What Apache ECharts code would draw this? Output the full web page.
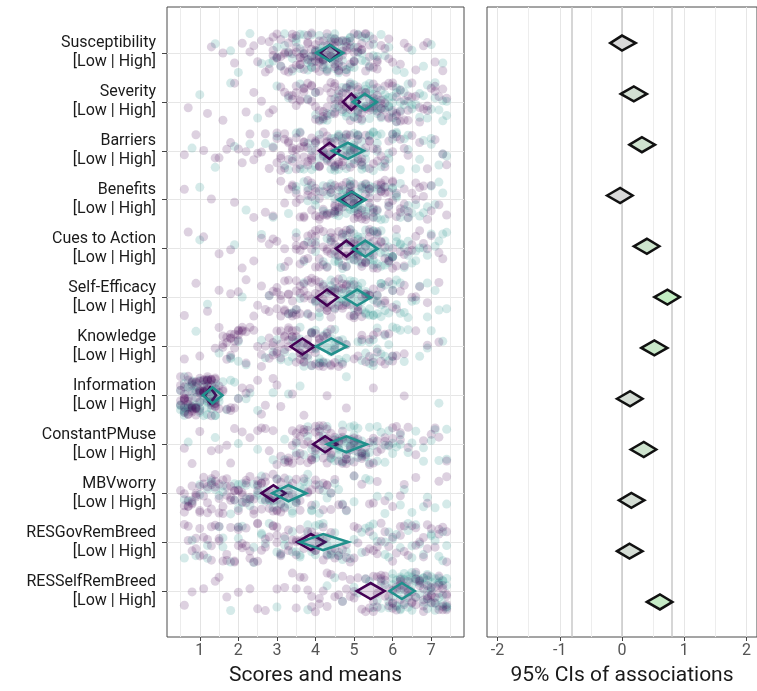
<!DOCTYPE html>
<html>
<head>
<meta charset="utf-8">
<script src="https://cdn.jsdelivr.net/npm/echarts@6/dist/echarts.min.js"></script>
<style>
  html, body { margin: 0; padding: 0; background: #fff; }
  #chart { width: 757px; height: 691px; }
</style>
</head>
<body>
<div id="chart"></div>
<script>
// rows (top to bottom)
const rowNames = ['Susceptibility', 'Severity', 'Barriers', 'Benefits', 'Cues to Action', 'Self-Efficacy',
  'Knowledge', 'Information', 'ConstantPMuse', 'MBVworry', 'RESGovRemBreed', 'RESSelfRemBreed'];
const rowSuffix = '[Low | High]';

// raw scores, low group (purple) per row
const lowScores = [
  [1.3, 1.6, 1.9, 2.1, 2.3, 2.4, 2.5, 2.6, 2.7, 2.8, 2.9, 2.9, 3.0, 3.0, 3.1, 3.1, 3.2, 3.2, 3.3, 3.3, 3.4, 3.4, 3.5, 3.5, 3.6, 3.6, 3.6, 3.7, 3.7, 3.8, 3.8, 3.8, 3.9, 3.9, 3.9, 4.0, 4.0, 4.0, 4.1, 4.1, 4.1, 4.2, 4.2, 4.2, 4.3, 4.3, 4.4, 4.4, 4.4, 4.5, 4.5, 4.5, 4.6, 4.6, 4.6, 4.7, 4.7, 4.8, 4.8, 4.8, 4.9, 4.9, 5.0, 5.0, 5.1, 5.1, 5.2, 5.2, 5.3, 5.3, 5.4, 5.4, 5.5, 5.6, 5.6, 5.7, 5.8, 5.9, 5.9, 6.0, 6.2, 6.3, 6.4, 6.6, 6.8, 6.9, 7.1, 7.3,
   2.8, 2.9, 3.0, 3.1, 3.2, 3.3, 3.4, 3.5, 3.5, 3.6, 3.7, 3.7, 3.8, 3.9, 4.0, 4.0, 4.1, 4.2, 4.2, 4.3, 4.3, 4.4, 4.5, 4.5, 4.6, 4.7, 4.7, 4.8, 4.9, 5.0, 5.1, 5.2, 5.3, 5.4, 5.5, 5.6, 3.4, 4.1, 4.6, 5.0],
  [0.7, 1.2, 1.6, 1.9, 2.2, 2.4, 2.6, 2.8, 2.9, 3.1, 3.2, 3.3, 3.4, 3.4, 3.5, 3.5, 3.6, 3.6, 3.7, 3.7, 3.8, 3.8, 3.9, 3.9, 4.0, 4.0, 4.1, 4.1, 4.2, 4.2, 4.3, 4.3, 4.4, 4.4, 4.5, 4.5, 4.5, 4.6, 4.6, 4.7, 4.7, 4.8, 4.8, 4.9, 4.9, 5.0, 5.0, 5.0, 5.1, 5.1, 5.2, 5.2, 5.3, 5.3, 5.4, 5.4, 5.5, 5.5, 5.6, 5.6, 5.7, 5.7, 5.8, 5.8, 5.9, 5.9, 6.0, 6.0, 6.1, 6.1, 6.2, 6.2, 6.3, 6.4, 6.4, 6.5, 6.6, 6.7, 6.8, 6.9, 7.0, 7.1, 7.2, 7.3, 7.4,
   3.5, 3.7, 3.9, 4.1, 4.2, 4.3, 4.4, 4.5, 4.6, 4.7, 4.8, 4.9, 5.0, 5.1, 5.2, 5.3, 5.4, 5.5, 5.6, 5.7, 5.8, 5.9, 6.0, 6.1, 6.2, 6.3, 6.5, 6.7, 6.9, 7.1, 4.5, 4.9, 5.3, 5.7, 6.1, 4.0, 4.7, 5.1, 5.5, 6.4],
  [0.6, 0.9, 1.1, 1.4, 1.5, 1.7, 1.8, 2.0, 2.1, 2.3, 2.4, 2.6, 2.7, 2.8, 2.9, 3.0, 3.0, 3.1, 3.1, 3.2, 3.2, 3.3, 3.3, 3.4, 3.4, 3.5, 3.5, 3.6, 3.6, 3.7, 3.7, 3.8, 3.8, 3.9, 3.9, 4.0, 4.0, 4.1, 4.1, 4.2, 4.2, 4.3, 4.3, 4.4, 4.4, 4.5, 4.5, 4.6, 4.6, 4.7, 4.7, 4.8, 4.8, 4.9, 4.9, 5.0, 5.0, 5.1, 5.1, 5.2, 5.2, 5.3, 5.4, 5.4, 5.5, 5.6, 5.7, 5.8, 5.9, 6.0, 6.1, 6.2, 6.4, 6.5, 6.7, 6.9, 7.1, 7.3, 7.4,
   3.0, 3.1, 3.2, 3.3, 3.4, 3.5, 3.6, 3.7, 3.8, 3.9, 4.0, 4.1, 4.2, 4.3, 4.4, 4.5, 4.6, 4.7, 4.8, 4.9, 5.0, 5.1, 5.2, 5.3, 5.4, 5.5, 5.6, 5.8, 6.0, 6.3, 3.5, 3.9, 4.3, 4.7, 5.1, 2.5, 2.2, 4.1, 4.5, 3.7],
  [0.6, 1.3, 1.9, 2.4, 2.7, 2.9, 3.1, 3.2, 3.3, 3.4, 3.5, 3.5, 3.6, 3.7, 3.7, 3.8, 3.8, 3.9, 3.9, 4.0, 4.0, 4.1, 4.1, 4.2, 4.2, 4.3, 4.3, 4.4, 4.4, 4.5, 4.5, 4.5, 4.6, 4.6, 4.7, 4.7, 4.8, 4.8, 4.9, 4.9, 5.0, 5.0, 5.0, 5.1, 5.1, 5.2, 5.2, 5.3, 5.3, 5.4, 5.4, 5.5, 5.5, 5.6, 5.6, 5.7, 5.7, 5.8, 5.8, 5.9, 5.9, 6.0, 6.0, 6.1, 6.2, 6.3, 6.4, 6.5, 6.6, 6.7, 6.8, 6.9, 7.0, 7.2, 7.4,
   3.4, 3.6, 3.8, 4.0, 4.1, 4.2, 4.3, 4.4, 4.5, 4.6, 4.7, 4.8, 4.9, 5.0, 5.1, 5.2, 5.3, 5.4, 5.5, 5.6, 5.7, 5.8, 5.9, 6.0, 6.1, 6.2, 6.4, 6.6, 6.8, 7.0, 4.5, 4.9, 5.3, 5.7, 6.3, 3.9, 4.6, 5.0, 5.4, 5.9],
  [0.7, 1.1, 1.5, 1.8, 2.1, 2.4, 2.6, 2.8, 3.0, 3.2, 3.3, 3.5, 3.5, 3.6, 3.6, 3.7, 3.7, 3.8, 3.8, 3.9, 3.9, 4.0, 4.0, 4.1, 4.1, 4.2, 4.2, 4.3, 4.3, 4.4, 4.4, 4.5, 4.5, 4.6, 4.6, 4.7, 4.7, 4.8, 4.8, 4.9, 4.9, 5.0, 5.0, 5.1, 5.1, 5.2, 5.2, 5.3, 5.3, 5.4, 5.4, 5.5, 5.5, 5.6, 5.6, 5.7, 5.8, 5.9, 6.0, 6.0, 6.1, 6.2, 6.3, 6.4, 6.5, 6.6, 6.8, 7.0, 7.2,
   3.5, 3.7, 3.9, 4.0, 4.1, 4.2, 4.3, 4.4, 4.5, 4.6, 4.7, 4.8, 4.9, 5.0, 5.1, 5.2, 5.3, 5.4, 5.5, 5.6, 5.7, 5.8, 5.9, 6.0, 6.1, 6.3, 6.5, 6.7, 4.4, 4.8, 5.2, 5.6, 4.0, 4.6, 5.0, 5.4, 3.2, 2.9, 6.9, 7.3],
  [0.6, 0.9, 1.2, 1.5, 1.8, 2.0, 2.2, 2.4, 2.6, 2.7, 2.8, 2.9, 3.0, 3.0, 3.1, 3.1, 3.2, 3.2, 3.3, 3.3, 3.4, 3.4, 3.5, 3.5, 3.6, 3.6, 3.7, 3.7, 3.8, 3.8, 3.9, 3.9, 4.0, 4.0, 4.1, 4.1, 4.2, 4.2, 4.3, 4.3, 4.4, 4.4, 4.5, 4.5, 4.6, 4.6, 4.7, 4.7, 4.8, 4.8, 4.9, 4.9, 5.0, 5.0, 5.1, 5.2, 5.3, 5.4, 5.5, 5.6, 5.7, 5.8, 5.9, 6.0, 6.1, 6.3, 6.5, 6.7, 6.9, 7.2,
   2.8, 3.0, 3.1, 3.2, 3.3, 3.4, 3.5, 3.6, 3.7, 3.8, 3.9, 4.0, 4.1, 4.2, 4.3, 4.4, 4.5, 4.6, 4.7, 4.8, 4.9, 5.0, 5.1, 5.2, 5.3, 5.4, 5.6, 5.8, 6.0, 6.2, 3.5, 3.9, 4.3, 4.7, 5.1, 3.3, 4.1, 4.5, 2.5, 6.6],
  [0.6, 1.0, 1.4, 1.5, 1.6, 1.6, 1.7, 1.7, 1.8, 1.8, 1.9, 1.9, 2.0, 2.0, 2.1, 2.1, 2.2, 2.3, 2.4, 2.5, 2.6, 2.7, 2.8, 2.9, 2.9, 3.0, 3.0, 3.1, 3.1, 3.2, 3.2, 3.3, 3.3, 3.4, 3.4, 3.5, 3.5, 3.6, 3.6, 3.7, 3.7, 3.8, 3.8, 3.9, 3.9, 4.0, 4.0, 4.1, 4.1, 4.2, 4.2, 4.3, 4.4, 4.4, 4.5, 4.6, 4.7, 4.8, 5.0, 5.1, 5.2, 5.3, 5.4, 5.5, 5.6, 5.7, 5.8, 5.9, 6.0, 6.1, 6.3, 6.6, 6.9, 7.2,
   1.6, 1.7, 1.8, 1.9, 2.0, 2.1, 2.2, 2.9, 3.0, 3.1, 3.2, 3.3, 3.4, 3.5, 3.6, 3.7, 3.8, 3.9, 4.0, 4.1, 4.2, 4.3, 4.5, 4.6, 5.2, 5.4, 5.6, 5.8, 6.0, 5.5, 3.3, 3.7, 4.1, 3.5, 3.9, 1.8, 2.0, 2.6, 2.8, 4.4],
  [0.5, 0.5, 0.5, 0.6, 0.6, 0.6, 0.6, 0.7, 0.7, 0.7, 0.7, 0.8, 0.8, 0.8, 0.8, 0.9, 0.9, 0.9, 0.9, 1.0, 1.0, 1.0, 1.0, 1.1, 1.1, 1.1, 1.1, 1.2, 1.2, 1.2, 1.2, 1.3, 1.3, 1.3, 1.3, 1.4, 1.4, 1.4, 1.4, 1.5, 1.5, 1.6, 1.7, 1.8, 1.9, 2.0, 2.1, 2.3, 2.5, 2.7, 2.9, 3.1, 3.4, 3.7, 4.3, 4.8, 5.5, 6.3,
   0.5, 0.6, 0.6, 0.7, 0.7, 0.8, 0.8, 0.9, 0.9, 1.0, 1.0, 1.1, 1.1, 1.2, 1.2, 1.3, 1.3, 1.4, 1.4, 1.5, 0.5, 0.6, 0.7, 0.8, 0.9, 1.0, 1.1, 1.2, 1.3, 1.4, 0.6, 0.8, 1.0, 1.2, 1.4, 1.6, 1.8, 2.2, 2.6, 3.0],
  [0.6, 0.8, 1.0, 1.3, 1.5, 1.7, 1.9, 2.1, 2.3, 2.5, 2.7, 2.8, 3.0, 3.1, 3.2, 3.3, 3.3, 3.4, 3.4, 3.5, 3.5, 3.6, 3.6, 3.7, 3.7, 3.8, 3.8, 3.9, 3.9, 4.0, 4.0, 4.1, 4.1, 4.2, 4.2, 4.3, 4.3, 4.4, 4.4, 4.5, 4.5, 4.6, 4.6, 4.7, 4.7, 4.8, 4.8, 4.9, 4.9, 5.0, 5.0, 5.1, 5.1, 5.2, 5.3, 5.4, 5.5, 5.6, 5.7, 5.8, 5.9, 6.0, 6.1, 6.2, 6.4, 6.6, 6.8, 7.0, 7.2, 7.4,
   3.3, 3.4, 3.5, 3.6, 3.7, 3.8, 3.9, 4.0, 4.1, 4.2, 4.3, 4.4, 4.5, 4.6, 4.7, 4.8, 4.9, 5.0, 5.1, 5.2, 5.3, 5.4, 5.5, 5.6, 5.8, 6.0, 6.2, 6.4, 3.6, 4.0, 4.4, 4.8, 5.2, 3.9, 4.3, 4.7, 2.6, 2.9, 1.8, 7.1],
  [0.5, 0.6, 0.6, 0.7, 0.7, 0.8, 0.8, 0.9, 0.9, 1.0, 1.0, 1.1, 1.1, 1.2, 1.2, 1.3, 1.3, 1.4, 1.4, 1.5, 1.5, 1.6, 1.6, 1.7, 1.7, 1.8, 1.8, 1.9, 1.9, 2.0, 2.0, 2.1, 2.1, 2.2, 2.2, 2.3, 2.3, 2.4, 2.4, 2.5, 2.5, 2.6, 2.6, 2.7, 2.7, 2.8, 2.8, 2.9, 2.9, 3.0, 3.0, 3.1, 3.1, 3.2, 3.2, 3.3, 3.4, 3.5, 3.6, 3.7, 3.8, 3.9, 4.0, 4.1, 4.2, 4.3, 4.4, 4.5, 4.6, 4.8, 5.0, 5.2, 5.4, 5.6, 5.8, 6.0, 6.3, 6.6, 6.9, 7.2, 7.4,
   0.6, 0.8, 1.0, 1.2, 1.4, 1.6, 1.8, 2.0, 2.2, 2.4, 2.6, 2.8, 3.0, 3.2, 3.4, 3.6, 3.8, 4.0, 4.2, 4.4, 0.7, 0.9, 1.1, 1.3, 1.5, 1.7, 1.9, 2.1, 2.3, 2.5, 2.7, 2.9, 3.1, 3.3, 3.5, 3.9, 4.3, 4.7, 5.5, 6.2],
  [0.6, 0.7, 0.8, 0.9, 1.0, 1.0, 1.1, 1.2, 1.3, 1.3, 1.4, 1.5, 1.5, 1.6, 1.7, 1.8, 1.9, 2.0, 2.0, 2.1, 2.2, 2.2, 2.3, 2.4, 2.5, 2.5, 2.6, 2.7, 2.8, 2.9, 3.0, 3.0, 3.1, 3.2, 3.3, 3.3, 3.4, 3.5, 3.5, 3.6, 3.7, 3.8, 3.9, 4.0, 4.0, 4.1, 4.2, 4.3, 4.4, 4.5, 4.6, 4.7, 4.8, 4.9, 5.0, 5.1, 5.3, 5.4, 5.5, 5.6, 5.7, 5.8, 5.9, 6.0, 6.1, 6.2, 6.3, 6.4, 6.5, 6.6, 6.7, 6.8, 6.9, 7.0, 7.1, 7.2, 7.3, 7.4,
   0.7, 0.9, 1.1, 1.3, 1.5, 1.7, 1.9, 2.1, 2.3, 2.5, 2.7, 2.9, 3.1, 3.3, 3.5, 3.7, 3.9, 4.1, 4.3, 4.5, 4.8, 5.1, 5.4, 5.7, 6.0, 6.3, 6.6, 6.9, 7.2, 7.4, 3.6, 4.0, 4.4, 5.0, 5.6, 6.2, 6.8, 2.0, 3.0, 4.2],
  [0.6, 0.8, 1.1, 1.4, 1.7, 2.0, 2.3, 2.7, 3.0, 3.2, 3.4, 3.5, 3.6, 3.7, 3.8, 3.9, 4.0, 4.1, 4.2, 4.3, 4.4, 4.5, 4.6, 4.7, 4.8, 4.9, 5.0, 5.1, 5.2, 5.3, 5.4, 5.5, 5.5, 5.6, 5.6, 5.7, 5.7, 5.8, 5.8, 5.9, 5.9, 6.0, 6.0, 6.1, 6.1, 6.2, 6.2, 6.3, 6.3, 6.4, 6.4, 6.5, 6.5, 6.6, 6.6, 6.7, 6.7, 6.8, 6.8, 6.9, 6.9, 7.0, 7.0, 7.1, 7.1, 7.2, 7.2, 7.3, 7.3, 7.4, 7.4,
   3.5, 3.9, 4.3, 4.7, 5.0, 5.3, 5.5, 5.7, 5.9, 6.0, 6.1, 6.2, 6.3, 6.4, 6.5, 6.6, 6.7, 6.8, 6.9, 7.0, 7.1, 7.2, 7.3, 7.4, 6.0, 6.4, 6.8, 7.2, 5.6, 6.2, 6.6, 7.0, 7.4, 5.8, 4.9, 4.1, 2.5, 1.5, 6.9, 7.3]
];

// raw scores, high group (teal) per row
const highScores = [
  [1.4, 1.8, 2.0, 2.3, 2.6, 2.8, 2.9, 3.0, 3.1, 3.2, 3.3, 3.4, 3.5, 3.6, 3.6, 3.7, 3.8, 3.8, 3.9, 3.9, 4.0, 4.0, 4.1, 4.1, 4.2, 4.2, 4.3, 4.3, 4.4, 4.4, 4.5, 4.5, 4.5, 4.6, 4.6, 4.7, 4.7, 4.8, 4.8, 4.9, 4.9, 5.0, 5.0, 5.1, 5.2, 5.2, 5.3, 5.4, 5.5, 5.6, 5.8, 5.9, 6.1, 6.3, 6.5, 6.8, 7.0, 7.3,
   3.0, 3.2, 3.4, 3.5, 3.7, 3.8, 3.9, 4.0, 4.1, 4.2, 4.3, 4.4, 4.5, 4.6, 4.7, 4.8, 4.9, 5.0, 5.1, 5.2, 5.3, 5.5, 5.7, 3.6, 4.2, 4.5, 4.9, 3.9, 4.4, 5.4],
  [1.0, 1.8, 2.5, 3.0, 3.3, 3.6, 3.8, 4.0, 4.1, 4.2, 4.3, 4.4, 4.5, 4.6, 4.6, 4.7, 4.8, 4.8, 4.9, 5.0, 5.0, 5.0, 5.1, 5.1, 5.2, 5.2, 5.3, 5.3, 5.4, 5.4, 5.5, 5.5, 5.5, 5.6, 5.6, 5.7, 5.7, 5.8, 5.8, 5.9, 5.9, 6.0, 6.0, 6.1, 6.1, 6.2, 6.2, 6.3, 6.4, 6.5, 6.6, 6.7, 6.8, 6.9, 7.0, 7.1, 7.2, 7.3, 7.4, 7.4,
   4.0, 4.3, 4.5, 4.7, 4.9, 5.0, 5.1, 5.2, 5.3, 5.4, 5.5, 5.6, 5.7, 5.8, 5.9, 6.0, 6.1, 6.2, 6.3, 6.5, 6.7, 6.9, 7.1, 7.3, 5.0, 5.5, 6.0, 4.8, 5.6, 6.4],
  [0.8, 1.4, 1.9, 2.3, 2.7, 3.0, 3.2, 3.4, 3.5, 3.6, 3.7, 3.8, 3.9, 4.0, 4.1, 4.2, 4.2, 4.3, 4.4, 4.4, 4.5, 4.5, 4.6, 4.6, 4.7, 4.7, 4.8, 4.8, 4.9, 4.9, 5.0, 5.0, 5.0, 5.1, 5.1, 5.2, 5.2, 5.3, 5.3, 5.4, 5.5, 5.5, 5.6, 5.6, 5.7, 5.8, 5.9, 6.0, 6.1, 6.2, 6.3, 6.4, 6.6, 6.8, 7.0, 7.2, 7.3, 7.4,
   3.3, 3.6, 3.9, 4.1, 4.3, 4.5, 4.6, 4.7, 4.8, 4.9, 5.0, 5.1, 5.2, 5.3, 5.4, 5.5, 5.7, 5.9, 6.1, 6.4, 6.7, 7.0, 4.4, 4.8, 5.2, 5.6, 4.0, 5.0, 6.0, 2.9],
  [1.0, 2.2, 2.9, 3.3, 3.5, 3.7, 3.8, 3.9, 4.0, 4.1, 4.2, 4.3, 4.4, 4.4, 4.5, 4.5, 4.6, 4.6, 4.7, 4.7, 4.8, 4.8, 4.9, 4.9, 4.9, 5.0, 5.0, 5.0, 5.1, 5.1, 5.2, 5.2, 5.3, 5.3, 5.4, 5.4, 5.5, 5.5, 5.6, 5.6, 5.7, 5.8, 5.9, 6.0, 6.1, 6.2, 6.3, 6.4, 6.5, 6.7, 6.9, 7.1, 7.3,
   3.5, 3.8, 4.0, 4.2, 4.4, 4.5, 4.6, 4.7, 4.8, 4.9, 5.0, 5.1, 5.2, 5.3, 5.4, 5.5, 5.6, 5.8, 6.0, 6.2, 6.4, 6.6, 6.8, 7.0, 4.9, 5.3, 5.7, 4.3, 6.1, 7.2],
  [1.0, 1.9, 2.6, 3.1, 3.5, 3.8, 4.0, 4.2, 4.3, 4.4, 4.5, 4.6, 4.6, 4.7, 4.8, 4.8, 4.9, 4.9, 5.0, 5.0, 5.0, 5.1, 5.1, 5.2, 5.2, 5.3, 5.3, 5.4, 5.4, 5.5, 5.5, 5.5, 5.6, 5.6, 5.7, 5.7, 5.8, 5.8, 5.9, 6.0, 6.0, 6.1, 6.2, 6.3, 6.4, 6.5, 6.6, 6.7, 6.9, 7.1, 7.3, 7.4,
   3.7, 4.0, 4.3, 4.5, 4.7, 4.8, 4.9, 5.0, 5.1, 5.2, 5.3, 5.4, 5.5, 5.6, 5.7, 5.8, 5.9, 6.0, 6.1, 6.2, 6.4, 6.6, 6.8, 7.0, 5.1, 5.5, 5.9, 4.6, 6.3, 7.2],
  [1.2, 2.1, 2.8, 3.3, 3.5, 3.6, 3.8, 4.0, 4.1, 4.2, 4.3, 4.4, 4.4, 4.5, 4.6, 4.6, 4.7, 4.7, 4.8, 4.8, 4.9, 4.9, 5.0, 5.0, 5.0, 5.1, 5.1, 5.2, 5.2, 5.3, 5.3, 5.4, 5.4, 5.5, 5.5, 5.6, 5.6, 5.7, 5.7, 5.8, 5.9, 6.0, 6.1, 6.2, 6.3, 6.5, 6.7, 6.9, 7.1, 7.4,
   3.4, 3.7, 4.0, 4.2, 4.4, 4.6, 4.7, 4.8, 4.9, 5.0, 5.1, 5.2, 5.3, 5.4, 5.5, 5.6, 5.7, 5.8, 6.0, 6.2, 6.4, 6.6, 6.9, 4.5, 4.9, 5.3, 5.7, 4.1, 6.1, 7.2],
  [0.9, 1.5, 1.8, 2.0, 2.2, 2.6, 2.9, 3.1, 3.3, 3.4, 3.5, 3.6, 3.6, 3.7, 3.8, 3.9, 3.9, 4.0, 4.0, 4.1, 4.1, 4.2, 4.3, 4.4, 4.5, 4.6, 4.7, 4.8, 5.1, 5.2, 5.3, 5.4, 5.5, 5.5, 5.6, 5.7, 5.8, 5.9, 6.0, 6.1, 6.2, 6.4, 6.7, 7.0, 7.3,
   1.8, 2.0, 3.0, 3.2, 3.4, 3.6, 3.8, 4.0, 4.2, 4.3, 4.4, 4.5, 4.6, 4.7, 4.8, 5.2, 5.4, 5.6, 5.8, 6.0, 3.7, 4.1, 4.5, 5.5, 5.9, 3.9, 4.3, 2.7, 6.3, 6.9],
  [0.5, 0.5, 0.6, 0.6, 0.6, 0.7, 0.7, 0.7, 0.8, 0.8, 0.8, 0.9, 0.9, 0.9, 1.0, 1.0, 1.0, 1.1, 1.1, 1.1, 1.2, 1.2, 1.2, 1.3, 1.3, 1.3, 1.4, 1.4, 1.4, 1.5, 1.6, 1.8, 2.0, 2.2, 2.5, 2.9, 3.3, 4.8, 7.2,
   0.5, 0.6, 0.7, 0.8, 0.9, 1.0, 1.1, 1.2, 1.3, 1.4, 0.5, 0.6, 0.7, 0.8, 0.9, 1.0, 1.1, 1.2, 1.3, 1.4, 0.6, 0.8, 1.0, 1.2, 1.4, 1.5, 1.7, 1.9, 2.3, 3.6],
  [0.7, 1.4, 2.0, 2.5, 2.9, 3.2, 3.5, 3.7, 3.8, 3.9, 4.0, 4.1, 4.2, 4.3, 4.4, 4.4, 4.5, 4.5, 4.6, 4.6, 4.7, 4.7, 4.8, 4.8, 4.9, 4.9, 5.0, 5.0, 5.0, 5.1, 5.1, 5.2, 5.2, 5.3, 5.4, 5.5, 5.6, 5.7, 5.8, 5.9, 6.0, 6.1, 6.2, 6.4, 6.6, 6.8, 7.0, 7.2, 7.4,
   3.5, 3.8, 4.0, 4.2, 4.4, 4.5, 4.6, 4.7, 4.8, 4.9, 5.0, 5.1, 5.2, 5.3, 5.4, 5.5, 5.6, 5.8, 6.0, 6.2, 6.5, 6.8, 7.1, 4.6, 5.0, 5.4, 4.2, 5.9, 3.2, 7.4],
  [0.6, 0.8, 1.0, 1.2, 1.3, 1.5, 1.6, 1.8, 1.9, 2.0, 2.0, 2.1, 2.2, 2.3, 2.4, 2.5, 2.5, 2.6, 2.7, 2.8, 2.8, 2.9, 3.0, 3.0, 3.1, 3.2, 3.3, 3.3, 3.4, 3.5, 3.5, 3.6, 3.7, 3.8, 3.9, 4.0, 4.1, 4.2, 4.4, 4.6, 4.8, 5.0, 5.3, 5.6, 5.9, 6.2, 6.5, 6.8, 7.1, 7.4,
   0.7, 1.0, 1.3, 1.6, 1.9, 2.1, 2.3, 2.5, 2.7, 2.9, 3.1, 3.3, 3.5, 3.7, 3.9, 4.1, 4.3, 4.5, 4.7, 5.0, 5.4, 5.8, 6.3, 6.9, 2.2, 2.6, 3.0, 3.4, 3.8, 1.4],
  [0.6, 0.9, 1.2, 1.5, 1.6, 1.8, 2.0, 2.1, 2.4, 2.6, 2.7, 3.0, 3.1, 3.2, 3.4, 3.5, 3.6, 3.8, 3.9, 4.0, 4.1, 4.2, 4.3, 4.4, 4.5, 4.6, 4.8, 5.0, 5.2, 5.4, 5.5, 5.6, 5.8, 5.9, 6.0, 6.2, 6.4, 6.5, 6.6, 6.8, 7.0, 7.2, 7.3, 7.4,
   0.8, 1.2, 1.6, 2.0, 2.4, 2.8, 3.2, 3.6, 4.0, 4.3, 4.6, 4.9, 5.2, 5.5, 5.8, 6.1, 6.4, 6.7, 7.0, 7.3, 3.8, 4.2, 4.7, 5.3, 5.9, 6.5, 7.1, 2.6, 3.4, 4.4],
  [1.8, 3.0, 3.8, 4.3, 4.7, 5.0, 5.3, 5.5, 5.6, 5.7, 5.8, 5.9, 6.0, 6.0, 6.1, 6.1, 6.2, 6.2, 6.2, 6.3, 6.3, 6.4, 6.4, 6.5, 6.5, 6.5, 6.6, 6.6, 6.7, 6.7, 6.8, 6.8, 6.9, 6.9, 6.9, 7.0, 7.0, 7.0, 7.1, 7.1, 7.2, 7.2, 7.2, 7.3, 7.3, 7.4, 7.4, 7.4,
   5.4, 5.7, 5.9, 6.0, 6.1, 6.2, 6.3, 6.4, 6.5, 6.6, 6.7, 6.8, 6.9, 7.0, 7.1, 7.2, 7.3, 7.4, 6.2, 6.6, 7.0, 7.4, 6.4, 6.8, 7.2, 5.1, 4.5, 6.0, 6.9, 7.3]
];

// mean diamonds [lower, mean, upper]
const lowMeans = [
  [4.12, 4.37, 4.62], [4.71, 4.93, 5.15], [4.09, 4.36, 4.63], [4.66, 4.94, 5.22],
  [4.53, 4.80, 5.07], [4.02, 4.30, 4.58], [3.35, 3.66, 3.97], [1.12, 1.27, 1.42],
  [3.94, 4.25, 4.56], [2.60, 2.91, 3.22], [3.52, 3.88, 4.25], [5.07, 5.43, 5.79]
];
const highMeans = [
  [4.02, 4.37, 4.72], [4.97, 5.28, 5.59], [4.43, 4.84, 5.25], [4.58, 4.94, 5.30],
  [4.97, 5.29, 5.61], [4.74, 5.08, 5.43], [4.02, 4.41, 4.81], [1.08, 1.33, 1.59],
  [4.30, 4.80, 5.33], [2.88, 3.30, 3.76], [3.60, 4.20, 4.85], [5.92, 6.24, 6.57]
];

// 95% CIs of associations [lower, estimate, upper]
const assocCIs = [
  [-0.19, 0.00, 0.22], [-0.02, 0.19, 0.40], [0.12, 0.32, 0.53], [-0.24, -0.03, 0.17],
  [0.19, 0.40, 0.60], [0.52, 0.73, 0.93], [0.31, 0.52, 0.73], [-0.08, 0.13, 0.33],
  [0.14, 0.35, 0.55], [-0.05, 0.15, 0.36], [-0.08, 0.12, 0.33], [0.40, 0.61, 0.81]
];

const scoreTicks = [1, 2, 3, 4, 5, 6, 7];
const scoreMinor = [0.5, 1.5, 2.5, 3.5, 4.5, 5.5, 6.5, 7.5];
const assocTicks = [-2, -1, 0, 1, 2];
const assocMinor = [-1.5, -0.5, 0.5, 1.5];
const assocRefs = [-0.8, 0, 0.8];
const rowTicks = rowNames.map((n, i) => i + 1);

const PURPLE = '#440154';
const TEAL = '#21908C';
const FONT = 'Roboto';

const toPoints = (scores) => {
  let out = [];
  scores.forEach((list, r) => list.forEach(v => out.push([v, rowNames[r]])));
  return out;
};
const toDiamonds = (rows) => rows.map((d, i) => [i + 1, d[0], d[1], d[2]]);

const diamond = (half, stroke, fill, width) => (params, api) => {
  const y = api.value(0);
  const a = api.coord([api.value(1), y]);
  const m = api.coord([api.value(2), y]);
  const b = api.coord([api.value(3), y]);
  return {
    type: 'polygon',
    shape: { points: [[a[0], m[1]], [m[0], m[1] - half], [b[0], m[1]], [m[0], m[1] + half]] },
    style: { fill: fill || api.visual('color'), stroke: stroke, lineWidth: width, lineJoin: 'miter' }
  };
};

const hiddenBits = { axisLine: { show: false }, axisTick: { show: false }, axisLabel: { show: false } };

const chart = echarts.init(document.getElementById('chart'), null, { renderer: 'canvas' });

chart.setOption({
  animation: false,
  backgroundColor: '#fff',
  textStyle: { fontFamily: FONT },
  grid: [
    { left: 167, width: 297, top: 7, height: 631, show: true, borderColor: '#4a4a4a', borderWidth: 1 },
    { left: 167, width: 297, top: 28.5, height: 588 },
    { left: 487, right: -4, top: 7, height: 631, show: true, borderColor: '#4a4a4a', borderWidth: 1 }
  ],
  xAxis: [
    {
      gridIndex: 0, type: 'value', min: 0.15, max: 7.85,
      name: 'Scores and means', nameLocation: 'middle', nameGap: 28,
      nameTextStyle: { fontSize: 21, color: '#1a1a1a', fontFamily: FONT },
      axisLine: { show: false },
      axisTick: { show: true, length: 4, customValues: scoreTicks, lineStyle: { color: '#444' } },
      axisLabel: { customValues: scoreTicks, fontSize: 16, color: '#555', margin: 6, fontFamily: FONT },
      splitLine: { show: true, lineStyle: { color: '#e3e3e3', width: 1 } }
    },
    Object.assign({
      gridIndex: 0, type: 'value', min: 0.15, max: 7.85,
      splitLine: { show: true, lineStyle: { color: '#ececec', width: 1 } }
    }, hiddenBits, { axisTick: { show: false, customValues: scoreMinor } }),
    { gridIndex: 1, type: 'value', min: 0.15, max: 7.85, show: false },
    {
      gridIndex: 2, type: 'value', min: -2.17, max: 2.17,
      name: '95% CIs of associations', nameLocation: 'middle', nameGap: 28,
      nameTextStyle: { fontSize: 21, color: '#1a1a1a', fontFamily: FONT },
      axisLine: { show: false },
      axisTick: { show: true, length: 4, customValues: assocTicks, lineStyle: { color: '#444' } },
      axisLabel: { customValues: assocTicks, fontSize: 16, color: '#555', margin: 6, fontFamily: FONT },
      splitLine: { show: true, lineStyle: { color: '#e6e6e6', width: 1 } }
    },
    Object.assign({
      gridIndex: 2, type: 'value', min: -2.17, max: 2.17,
      splitLine: { show: true, lineStyle: { color: '#ededed', width: 1 } }
    }, hiddenBits, { axisTick: { show: false, customValues: assocMinor } }),
    Object.assign({
      gridIndex: 2, type: 'value', min: -2.17, max: 2.17,
      splitLine: { show: true, lineStyle: { color: '#c8c8c8', width: 1.5 } }
    }, hiddenBits, { axisTick: { show: false, customValues: assocRefs } })
  ],
  yAxis: [
    {
      gridIndex: 0, type: 'value', inverse: true, min: 0.06, max: 12.94,
      axisLine: { show: false },
      axisTick: { show: true, length: 5, customValues: rowTicks, lineStyle: { color: '#444' } },
      axisLabel: {
        customValues: rowTicks, fontSize: 16, lineHeight: 19, color: '#1a1a1a', margin: 11, fontFamily: FONT,
        formatter: (v) => rowNames[Math.round(v) - 1] + '\n' + rowSuffix
      },
      splitLine: { show: true, lineStyle: { color: '#e6e6e6', width: 1 } }
    },
    {
      gridIndex: 1, type: 'category', inverse: true, data: rowNames,
      jitter: 40, jitterOverlap: true,
      axisLine: { show: false }, axisTick: { show: false }, axisLabel: { show: false }, splitLine: { show: false }
    },
    { gridIndex: 2, type: 'value', inverse: true, min: 0.29, max: 12.69, show: false }
  ],
  visualMap: [{
    type: 'continuous', show: false, seriesIndex: 4, dimension: 2,
    min: 0, max: 0.75, inRange: { color: ['#d9d9d9', '#c2efc2'] }
  }],
  series: [
    {
      type: 'scatter', xAxisIndex: 2, yAxisIndex: 1, symbolSize: 9,
      itemStyle: { color: TEAL, opacity: 0.19 },
      data: toPoints(highScores), z: 2
    },
    {
      type: 'scatter', xAxisIndex: 2, yAxisIndex: 1, symbolSize: 9,
      itemStyle: { color: PURPLE, opacity: 0.18 },
      data: toPoints(lowScores), z: 2
    },
    {
      type: 'custom', xAxisIndex: 0, yAxisIndex: 0, z: 5,
      renderItem: diamond(8, PURPLE, 'rgba(68,1,84,0.15)', 2.6),
      encode: { x: [1, 2, 3], y: 0 },
      data: toDiamonds(lowMeans)
    },
    {
      type: 'custom', xAxisIndex: 0, yAxisIndex: 0, z: 6,
      renderItem: diamond(8, TEAL, 'rgba(33,144,140,0.15)', 2.6),
      encode: { x: [1, 2, 3], y: 0 },
      data: toDiamonds(highMeans)
    },
    {
      type: 'custom', xAxisIndex: 3, yAxisIndex: 2, z: 5,
      renderItem: diamond(7.5, '#111', null, 2.5),
      encode: { x: [1, 2, 3], y: 0 },
      data: toDiamonds(assocCIs)
    }
  ]
});
</script>
</body>
</html>
